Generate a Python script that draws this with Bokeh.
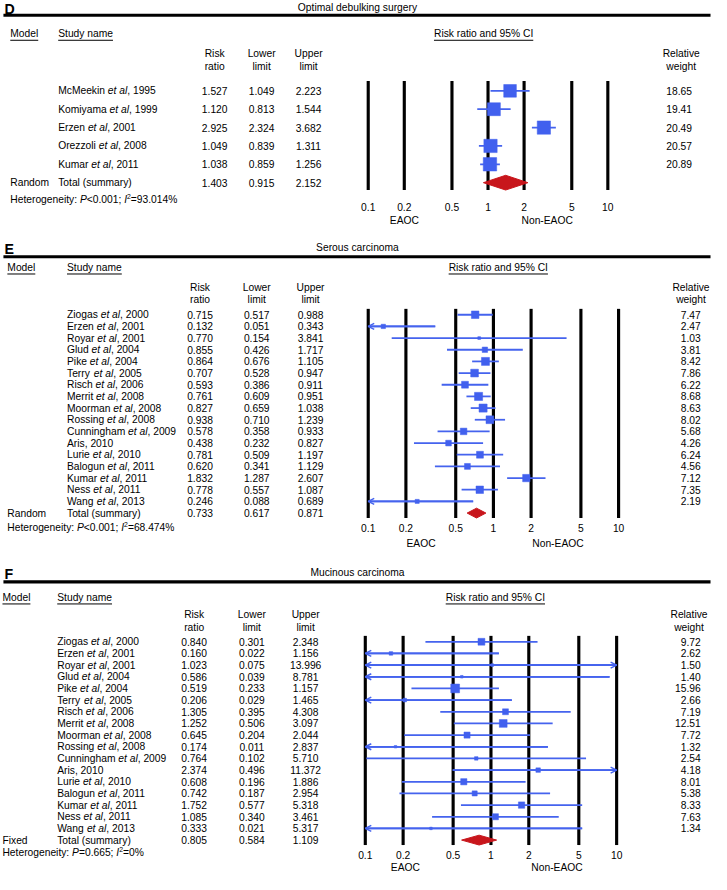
import math
from bokeh.plotting import figure
from bokeh.models import Range1d, LogScale, ColumnDataSource, Arrow, OpenHead
from bokeh.core.properties import value
from bokeh.embed import file_html
from bokeh.resources import INLINE

# ---------------- data ----------------
panel_letters = ["D", "E", "F"]
panel_titles = ["Optimal debulking surgery", "Serous carcinoma", "Mucinous carcinoma"]
tick_values = [0.1, 0.2, 0.5, 1, 2, 5, 10]
tick_labels = ["0.1", "0.2", "0.5", "1", "2", "5", "10"]
side_labels = ["EAOC", "Non-EAOC"]
col_headers = [("Risk", "ratio"), ("Lower", "limit"), ("Upper", "limit")]
weight_header = ("Relative", "weight")
forest_header = "Risk ratio and 95% CI"

authors_D = ["McMeekin", "Komiyama", "Erzen", "Orezzoli", "Kumar"]
years_D = [1995, 1999, 2001, 2008, 2011]
etal_D = [True, True, True, True, True]
rr_D = [1.527, 1.120, 2.925, 1.049, 1.038]
lo_D = [1.049, 0.813, 2.324, 0.839, 0.859]
hi_D = [2.223, 1.544, 3.682, 1.311, 1.256]
w_D = [18.65, 19.41, 20.49, 20.57, 20.89]
total_D = [1.403, 0.915, 2.152]
model_D = "Random"
het_p_D = "<0.001"
het_i2_D = "93.014%"

authors_EF = ["Ziogas", "Erzen", "Royar", "Glud", "Pike", "Terry", "Risch", "Merrit",
              "Moorman", "Rossing", "Cunningham", "Aris", "Lurie", "Balogun", "Kumar",
              "Ness", "Wang"]
years_EF = [2000, 2001, 2001, 2004, 2004, 2005, 2006, 2008, 2008, 2008, 2009, 2010,
            2010, 2011, 2011, 2011, 2013]
etal_EF = [True, True, True, True, True, True, True, True, True, True, True, False,
           True, True, True, True, True]

rr_E = [0.715, 0.132, 0.770, 0.855, 0.864, 0.707, 0.593, 0.761, 0.827, 0.938, 0.578,
        0.438, 0.781, 0.620, 1.832, 0.778, 0.246]
lo_E = [0.517, 0.051, 0.154, 0.426, 0.676, 0.528, 0.386, 0.609, 0.659, 0.710, 0.358,
        0.232, 0.509, 0.341, 1.287, 0.557, 0.088]
hi_E = [0.988, 0.343, 3.841, 1.717, 1.105, 0.947, 0.911, 0.951, 1.038, 1.239, 0.933,
        0.827, 1.197, 1.129, 2.607, 1.087, 0.689]
w_E = [7.47, 2.47, 1.03, 3.81, 8.42, 7.86, 6.22, 8.68, 8.63, 8.02, 5.68, 4.26, 6.24,
       4.56, 7.12, 7.35, 2.19]
total_E = [0.733, 0.617, 0.871]
model_E = "Random"
het_p_E = "<0.001"
het_i2_E = "68.474%"

rr_F = [0.840, 0.160, 1.023, 0.586, 0.519, 0.206, 1.305, 1.252, 0.645, 0.174, 0.764,
        2.374, 0.608, 0.742, 1.752, 1.085, 0.333]
lo_F = [0.301, 0.022, 0.075, 0.039, 0.233, 0.029, 0.395, 0.506, 0.204, 0.011, 0.102,
        0.496, 0.196, 0.187, 0.577, 0.340, 0.021]
hi_F = [2.348, 1.156, 13.996, 8.781, 1.157, 1.465, 4.308, 3.097, 2.044, 2.837, 5.710,
        11.372, 1.886, 2.954, 5.318, 3.461, 5.317]
w_F = [9.72, 2.62, 1.50, 1.40, 15.96, 2.66, 7.19, 12.51, 7.72, 1.32, 2.54, 4.18, 8.01,
       5.38, 8.33, 7.63, 1.34]
total_F = [0.805, 0.584, 1.109]
model_F = "Fixed"
het_p_F = "=0.665"
het_i2_F = "0%"

panels = [
    dict(authors=authors_D, years=years_D, etal=etal_D, rr=rr_D, lo=lo_D, hi=hi_D, w=w_D,
         total=total_D, model=model_D, hp=het_p_D, hi2=het_i2_D),
    dict(authors=authors_EF, years=years_EF, etal=etal_EF, rr=rr_E, lo=lo_E, hi=hi_E, w=w_E,
         total=total_E, model=model_E, hp=het_p_E, hi2=het_i2_E),
    dict(authors=authors_EF, years=years_EF, etal=etal_EF, rr=rr_F, lo=lo_F, hi=hi_F, w=w_F,
         total=total_F, model=model_F, hp=het_p_F, hi2=het_i2_F),
]

# ---------------- layout (reference pixel units) ----------------
LAY = [
    dict(top_y=7, rule_y=15, head_y=34, model_x=10, study_x=59, ci_cx=494, sub_y=(54, 67),
         num_cx=(219, 267, 315), w_right=707, w_cx=696, row0=92, dy=18.7, het_y=203,
         x01=376, x10=621, vtop=82, vbot=193, tick_y=210, lab_y=224,
         side_x=(413, 559), k=3.0, dh=15),
    dict(top_y=252, rule_y=261, head_y=272, model_x=7, study_x=68, ci_cx=509, sub_y=(292, 304),
         num_cx=(204, 262, 317), w_right=716, w_cx=706, row0=320, dy=11.88, het_y=537,
         x01=376, x10=632, vtop=314, vbot=527, tick_y=537, lab_y=553,
         side_x=(430, 570), k=2.82, dh=10),
    dict(top_y=582, rule_y=592, head_y=608, model_x=2, study_x=58, ci_cx=506, sub_y=(625, 638),
         num_cx=(198, 257, 312), w_right=716, w_cx=704, row0=653, dy=11.88, het_y=868,
         x01=373, x10=630, vtop=647, vbot=860, tick_y=870, lab_y=883,
         side_x=(414, 569), k=2.25, dh=10),
]

REF_W, REF_H = 727, 890
W, H = 711, 874
S = W / REF_W
FS = 10.5
FONT = "Liberation Sans"
BLUE = "#4563EE"
SQ = "#4160EE"
RED = "#C8161C"

CW = {' ': 278, ',': 278, '.': 278, ':': 278, ';': 278, '<': 584, '=': 584, '%': 889,
      '(': 333, ')': 333,
      'A': 667, 'B': 667, 'C': 722, 'D': 722, 'E': 667, 'F': 611, 'G': 778, 'H': 722,
      'I': 278, 'J': 500, 'K': 667, 'L': 556, 'M': 833, 'N': 722, 'O': 778, 'P': 667,
      'Q': 778, 'R': 722, 'S': 667, 'T': 611, 'U': 722, 'V': 667, 'W': 944, 'X': 667,
      'Y': 667, 'Z': 611,
      'a': 556, 'b': 556, 'c': 500, 'd': 556, 'e': 556, 'f': 278, 'g': 556, 'h': 556,
      'i': 222, 'j': 222, 'k': 500, 'l': 222, 'm': 833, 'n': 556, 'o': 556, 'p': 556,
      'q': 556, 'r': 333, 's': 500, 't': 278, 'u': 556, 'v': 500, 'w': 722, 'x': 500,
      'y': 500, 'z': 500}


def tw(s, fs=FS):
    return sum(CW.get(ch, 556) for ch in s) / 1000.0 * fs


extra_ranges = {}
extra_scales = {}
for L, lay in zip(panel_letters, LAY):
    ppd = (lay["x10"] - lay["x01"]) / 2.0
    lo_r = 10 ** (-1 - lay["x01"] / ppd)
    hi_r = 10 ** (1 + (REF_W - lay["x10"]) / ppd)
    extra_ranges["rr" + L] = Range1d(lo_r, hi_r)
    extra_scales["rr" + L] = LogScale()

p = figure(width=W, height=H, x_range=Range1d(0, REF_W), y_range=Range1d(REF_H, 0),
           output_backend="svg", toolbar_location=None, min_border=0,
           x_axis_location=None, y_axis_location=None,
           extra_x_ranges=extra_ranges, extra_x_scales=extra_scales)
p.grid.visible = False
p.outline_line_color = None
p.background_fill_color = "white"
p.border_fill_color = "white"

bucket = {}


def T(x, y, s, align="left", style="normal", size=FS):
    key = (style, size, align)
    d = bucket.setdefault(key, {"x": [], "y": [], "text": []})
    d["x"].append(x)
    d["y"].append(y)
    d["text"].append(s)


ul = {"x0": [], "y0": [], "x1": [], "y1": []}
rules = {"x0": [], "y0": [], "x1": [], "y1": []}


def underline(x0, x1, y):
    ul["x0"].append(x0); ul["x1"].append(x1); ul["y0"].append(y); ul["y1"].append(y)


def study(x, y, author, etal, year):
    if etal:
        T(x, y, author)
        x2 = x + tw(author + " ")
        T(x2, y, "et al", style="italic")
        T(x2 + tw("et al"), y, ", %d" % year)
    else:
        T(x, y, "%s, %d" % (author, year))


def het(x, y, pval, i2):
    parts = [("Heterogeneity: ", "normal", FS, 0), ("P", "italic", FS, 0),
             (pval + "; ", "normal", FS, 0), ("I", "italic", FS, 0),
             ("2", "normal", 7.0, -3.5), ("=" + i2, "normal", FS, 0)]
    for s, st, sz, dyy in parts:
        T(x, y + dyy, s.rstrip(), style=st, size=sz)
        x += tw(s, sz)


for L, title, lay, d in zip(panel_letters, panel_titles, LAY, panels):
    rn = "rr" + L
    n = len(d["rr"])
    ys = [lay["row0"] + i * lay["dy"] for i in range(n)]
    tot_y = lay["row0"] + n * lay["dy"]

    # panel header
    T(4, lay["top_y"] + 1.5, L, style="bold", size=14.5)
    T(365, lay["top_y"], title, align="center")
    rules["x0"].append(3); rules["x1"].append(726)
    rules["y0"].append(lay["rule_y"]); rules["y1"].append(lay["rule_y"])

    hy = lay["head_y"]
    T(lay["model_x"], hy, "Model")
    underline(lay["model_x"], lay["model_x"] + tw("Model"), hy + 6.5)
    T(lay["study_x"], hy, "Study name")
    underline(lay["study_x"], lay["study_x"] + tw("Study name"), hy + 6.5)
    T(lay["ci_cx"], hy, forest_header, align="center")
    hw = tw(forest_header) / 2
    underline(lay["ci_cx"] - hw, lay["ci_cx"] + hw, hy + 6.5)

    for cx, (a, b) in zip(lay["num_cx"], col_headers):
        T(cx, lay["sub_y"][0], a, align="center")
        T(cx, lay["sub_y"][1], b, align="center")
    T(lay["w_cx"], lay["sub_y"][0], weight_header[0], align="center")
    T(lay["w_cx"], lay["sub_y"][1], weight_header[1], align="center")

    # study rows
    for i in range(n):
        study(lay["study_x"], ys[i], d["authors"][i], d["etal"][i], d["years"][i])
        for cx, v in zip(lay["num_cx"], (d["rr"][i], d["lo"][i], d["hi"][i])):
            T(cx, ys[i], "%.3f" % v, align="center")
        T(lay["w_right"], ys[i], "%.2f" % d["w"][i], align="right")

    # summary row
    T(lay["model_x"], tot_y, d["model"])
    T(lay["study_x"], tot_y, "Total (summary)")
    for cx, v in zip(lay["num_cx"], d["total"]):
        T(cx, tot_y, "%.3f" % v, align="center")
    het(lay["model_x"], lay["het_y"], d["hp"], d["hi2"])

    # forest plot
    p.segment(x0=tick_values, x1=tick_values, y0=[lay["vtop"]] * 7, y1=[lay["vbot"]] * 7,
              x_range_name=rn, line_color="black", line_width=3.2 * S, line_cap="butt")
    x0c = [max(v, 0.1) for v in d["lo"]]
    x1c = [min(v, 10) for v in d["hi"]]
    p.segment(x0=x0c, x1=x1c, y0=ys, y1=ys, x_range_name=rn, line_color=BLUE,
              line_width=1.8 * S)
    left = [i for i in range(n) if d["lo"][i] < 0.1]
    right = [i for i in range(n) if d["hi"][i] > 10]
    for idx, xe in ((left, 0.1), (right, 10)):
        if not idx:
            continue
        src = ColumnDataSource(dict(
            xs=[x1c[i] if xe == 0.1 else x0c[i] for i in idx],
            xe=[xe] * len(idx), y=[ys[i] for i in idx]))
        p.add_layout(Arrow(end=OpenHead(size=6, line_color=BLUE, line_width=1.5 * S),
                           x_start="xs", y_start="y", x_end="xe", y_end="y", source=src,
                           line_color=BLUE, line_width=1.8 * S, x_range_name=rn))
    p.scatter(x=d["rr"], y=ys, size=[lay["k"] * math.sqrt(w) * S for w in d["w"]],
              marker="square", fill_color=SQ, line_color=SQ, line_width=0.5,
              x_range_name=rn)
    est, tlo, thi = d["total"]
    hh = lay["dh"] / 2
    p.patch(x=[tlo, est, thi, est], y=[tot_y, tot_y - hh, tot_y, tot_y + hh],
            x_range_name=rn, fill_color=RED, line_color=RED, line_width=1)
    p.text(x=tick_values, y=[lay["tick_y"]] * 7, text=tick_labels, x_range_name=rn,
           text_font=value(FONT), text_font_size="%.2fpx" % (FS * S), text_align="center",
           text_baseline="middle", text_color="black")
    T(lay["side_x"][0], lay["lab_y"], side_labels[0], align="center")
    T(lay["side_x"][1], lay["lab_y"], side_labels[1], align="center")

p.segment(x0="x0", y0="y0", x1="x1", y1="y1", source=ColumnDataSource(ul),
          line_color="black", line_width=1.0)
p.segment(x0="x0", y0="y0", x1="x1", y1="y1", source=ColumnDataSource(rules),
          line_color="black", line_width=3.2 * S)

for (style, size, align), dd in bucket.items():
    p.text(x="x", y="y", text="text", source=ColumnDataSource(dd), text_font=value(FONT),
           text_font_size="%.2fpx" % (size * S), text_font_style=style, text_align=align,
           text_baseline="middle", text_color="black")

open("out.html", "w").write(file_html(p, INLINE))
